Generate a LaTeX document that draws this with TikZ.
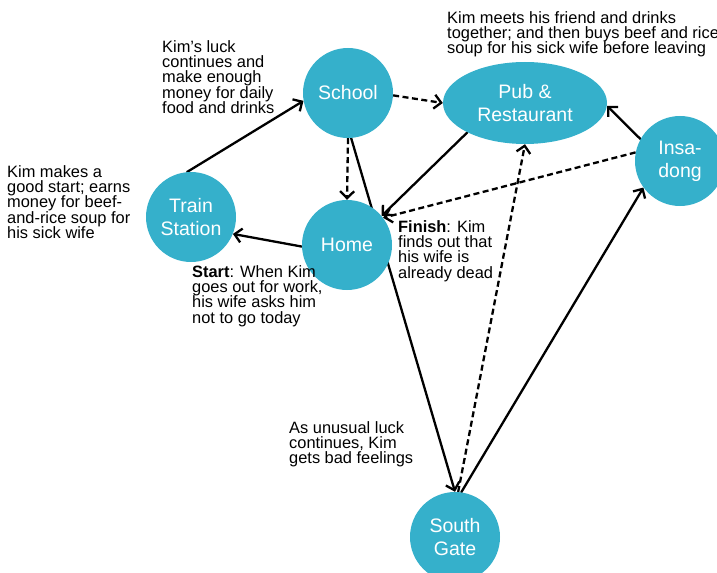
\documentclass[tikz,border=0pt]{standalone}
\usepackage{fontspec}
\setmainfont{Liberation Sans}
\usetikzlibrary{arrows.meta,shapes.geometric}
\definecolor{placeclr}{RGB}{53,176,203}
\pgfdeclarelayer{bg}
\pgfsetlayers{bg,main}

\tikzset{
  placefont/.style={font=\fontsize{19.5bp}{23bp}\selectfont},
  place/.style={circle,fill=placeclr,text=white,minimum size=90bp,inner sep=0pt,align=center,placefont},
  bigplace/.style={ellipse,fill=placeclr,text=white,minimum width=164bp,minimum height=82bp,inner sep=0pt,align=center,placefont},
  note/.style={align=left,inner sep=0pt,anchor=north west,text=black,font=\fontsize{16.4bp}{15.4bp}\selectfont},
  conn/.style={line width=2.3bp,line cap=round,-{Straight Barb[length=7bp,width=14bp,line width=2.3bp]}},
  dconn/.style={conn,line cap=butt,dash pattern=on 6bp off 3.5bp},
}

\begin{document}
\begin{tikzpicture}[x=1bp,y=-1bp]
\useasboundingbox (0,0) rectangle (717,573);

% places of the story
\node[place]    (school) at (348,93)  {School};
\node[bigplace] (pub)    at (525,103) {Pub \&\\Restaurant};
\node[place]    (insa)   at (680,161) {Insa-\\dong};
\node[place]    (train)  at (191,217) {Train\\Station};
\node[place]    (home)   at (347,245) {Home};
\node[place]    (gate)   at (455,537) {South\\Gate};

% movements between the places
\begin{pgfonlayer}{bg}
\draw[conn]  (train.95)  -- (school.190);
\draw[dconn] (school.-3) -- (pub.west);
\draw[dconn] (school.-90) -- (home.north);
\draw[conn]  (home.182)  -- (train.-22);
\draw[conn]  (pub.207)   -- (home.40);
\draw[dconn] (insa.169)  -- (home.37);
\draw[conn]  (school.-86) -- (gate.north);
\draw[dconn] (gate.86)   -- (pub.south);
\draw[conn]  (gate.82)   -- (insa.216);
\draw[conn]  (insa.151)  -- (pub.-2);
\end{pgfonlayer}

% annotations
\node[note] (n1) at (447,11) {Kim meets his friend and drinks\\together; and then buys beef and rice\\soup for his sick wife before leaving};
\node[note] (n2) at (162,40) {Kim's luck\\continues and\\make enough\\money for daily\\food and drinks};
\node[note] (n3) at (7,165) {Kim makes a\\good start; earns\\money for beef-\\and-rice soup for\\his sick wife};
\node[note] (n4) at (192,265) {\textbf{Start}: When Kim\\goes out for work,\\his wife asks him\\not to go today};
\node[note] (n5) at (398,220) {\textbf{Finish}: Kim\\finds out that\\his wife is\\already dead};
\node[note] (n6) at (289,421) {As unusual luck\\continues, Kim\\gets bad feelings};
\end{tikzpicture}
\end{document}
